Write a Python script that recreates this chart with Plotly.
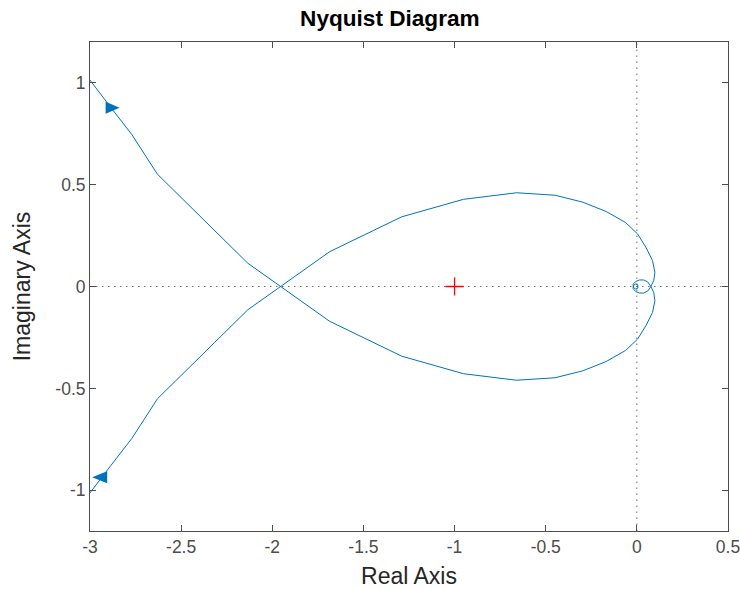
import plotly.graph_objects as go

# Branch traced from upper-left, through lower lobe, into the small loop at origin
re_branch = [-3.10, -3.00, -2.885, -2.77, -2.63, -2.134, -1.685, -1.29, -0.951, -0.66,
             -0.449, -0.297, -0.168, -0.062, 0.004, 0.050, 0.086, 0.099, 0.093, 0.077,
             0.060, 0.038, 0.014, -0.007, -0.021, -0.018, -0.007, 0.003, 0.006, 0.003, 0.0]
im_branch = [1.13, 1.01, 0.878, 0.745, 0.551, 0.114, -0.171, -0.342, -0.428, -0.460,
             -0.448, -0.414, -0.368, -0.314, -0.258, -0.192, -0.127, -0.070, -0.030, 0.0,
             0.022, 0.032, 0.032, 0.024, 0.010, -0.006, -0.012, -0.010, -0.003, 0.003, 0.0]
# Mirror (negative-frequency) branch
re_mirror = list(re_branch)
im_mirror = [-v for v in im_branch]

arrow_up_x, arrow_up_y = -2.876, 0.877
arrow_dn_x, arrow_dn_y = -2.947, -0.936
crit_x, crit_y = [-1], [0]

x_ticks = [-3, -2.5, -2, -1.5, -1, -0.5, 0, 0.5]
x_labels = ["-3", "-2.5", "-2", "-1.5", "-1", "-0.5", "0", "0.5"]
y_ticks = [-1, -0.5, 0, 0.5, 1]
y_labels = ["-1", "-0.5", "0", "0.5", "1"]

BLUE = "#0072BD"
FONT = "Liberation Sans, Arial, Helvetica, sans-serif"
AX = "#4d4d4d"

fig = go.Figure()
fig.add_hline(y=0, line=dict(color="#6e6e6e", width=1, dash="1.5px,4.5px"), layer="below")
fig.add_vline(x=0, line=dict(color="#6e6e6e", width=1, dash="1.5px,4.5px"), layer="below")

fig.add_trace(go.Scatter(x=re_branch, y=im_branch, mode="lines",
                         line=dict(color=BLUE, width=1), hoverinfo="skip"))
fig.add_trace(go.Scatter(x=re_mirror, y=im_mirror, mode="lines",
                         line=dict(color=BLUE, width=1), hoverinfo="skip"))
fig.add_trace(go.Scatter(x=crit_x, y=crit_y, mode="markers",
                         marker=dict(symbol="cross-thin", size=13,
                                     line=dict(color="red", width=1.3))))

# direction arrows (pixel-sized triangles anchored at data points)
fig.add_shape(type="path", xsizemode="pixel", ysizemode="pixel",
              xanchor=arrow_up_x, yanchor=arrow_up_y, xref="x", yref="y",
              path="M -7,-6 L 7,0 L -7,6 Z", fillcolor=BLUE, line=dict(width=0))
fig.add_shape(type="path", xsizemode="pixel", ysizemode="pixel",
              xanchor=arrow_dn_x, yanchor=arrow_dn_y, xref="x", yref="y",
              path="M 7.5,-6 L -7.5,0 L 7.5,6 Z", fillcolor=BLUE, line=dict(width=0))

axis_common = dict(showgrid=False, zeroline=False, showline=True, linecolor=AX,
                   linewidth=1, mirror="ticks", ticks="inside", ticklen=6,
                   tickcolor=AX, tickwidth=1, automargin=False,
                   ticklabeloverflow="allow",
                   tickfont=dict(family=FONT, size=17.5, color=AX))

fig.update_layout(
    width=740, height=589,
    margin=dict(l=89.5, r=12, t=42, b=58),
    paper_bgcolor="white", plot_bgcolor="white",
    showlegend=False,
    title=dict(text="<b>Nyquist Diagram</b>", x=0.47, xref="paper", xanchor="center",
               y=1 - 18 / 589, yref="container", yanchor="middle",
               font=dict(family=FONT, size=22.6, color="black")),
    xaxis=dict(range=[-3, 0.5], tickvals=x_ticks, ticktext=x_labels,
               title=dict(text="Real Axis", font=dict(family=FONT, size=23, color="#262626"),
                          standoff=11),
               **axis_common),
    yaxis=dict(range=[-1.2, 1.2], tickvals=y_ticks, ticktext=y_labels,
               title=dict(text="Imaginary Axis", font=dict(family=FONT, size=23, color="#262626"),
                          standoff=18),
               **axis_common),
)

fig.write_html("out.html", config={"displayModeBar": False},
               post_script="document.body.style.margin='0';document.body.style.overflow='hidden';")
